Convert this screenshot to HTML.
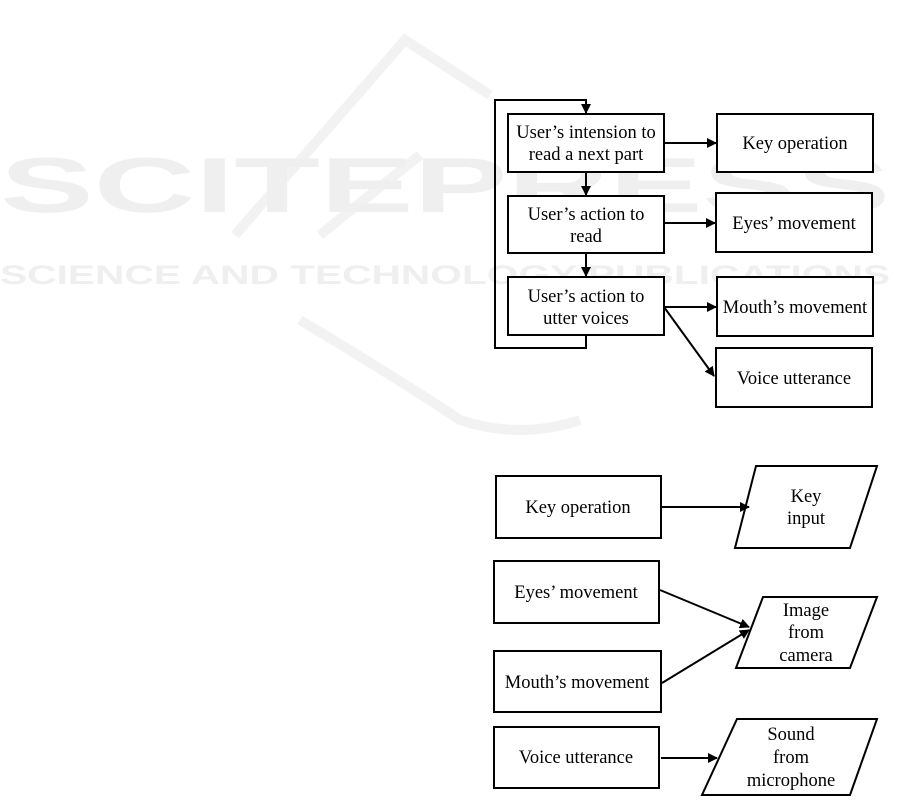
<!DOCTYPE html>
<html><head><meta charset="utf-8"><style>
html,body{margin:0;padding:0;background:#fff;}
svg{display:block;}
.t{font-family:"Liberation Serif",serif;font-size:18.5px;fill:#000;}
</style></head><body>
<svg width="901" height="804" viewBox="0 0 901 804" xmlns="http://www.w3.org/2000/svg">
<defs><marker id="a" markerWidth="10" markerHeight="10" refX="9" refY="5" orient="auto" markerUnits="userSpaceOnUse"><path d="M0,0 L10,5 L0,10 z" fill="#000"/></marker></defs>
<g stroke="#f2f2f2" stroke-width="10" fill="none">
<path d="M235,235 L405,40 L490,95"/>
<path d="M320,235 L420,155"/>
<path d="M300,320 Q400,380 460,420 Q520,440 580,420"/>
</g>
<text x="0" y="212" style="font-family:'Liberation Sans',sans-serif;font-weight:bold;font-size:78px;fill:#efefef" textLength="890" lengthAdjust="spacingAndGlyphs">SCITEPRESS</text>
<text x="0" y="284" style="font-family:'Liberation Sans',sans-serif;font-weight:bold;font-size:27px;fill:#efefef" textLength="890" lengthAdjust="spacingAndGlyphs">SCIENCE AND TECHNOLOGY PUBLICATIONS</text>
<g fill="#fff" stroke="#000" stroke-width="2">
<rect x="508" y="114" width="156" height="58"/>
<rect x="508" y="196" width="156" height="57"/>
<rect x="508" y="277" width="156" height="58"/>
<rect x="717" y="114" width="156" height="58"/>
<rect x="716" y="193" width="156" height="59"/>
<rect x="717" y="277" width="156" height="59"/>
<rect x="716" y="348" width="156" height="59"/>
<rect x="496" y="476" width="165" height="62"/>
<polygon points="756,466 877,466 850,548 735,548"/>
<rect x="494" y="561" width="165" height="62"/>
<rect x="494" y="651" width="167" height="61"/>
<polygon points="763,597 877,597 850,668 736,668"/>
<rect x="494" y="727" width="165" height="61"/>
<polygon points="737,719 877,719 850,795 702,795"/>
</g>
<g fill="none" stroke="#000" stroke-width="2">
<polyline points="586,335 586,348 495,348 495,100 586,100 586,113" marker-end="url(#a)"/>
<line x1="586" y1="172" x2="586" y2="195" marker-end="url(#a)"/>
<line x1="586" y1="253" x2="586" y2="276" marker-end="url(#a)"/>
<line x1="664" y1="143" x2="716" y2="143" marker-end="url(#a)"/>
<line x1="664" y1="223" x2="715" y2="223" marker-end="url(#a)"/>
<line x1="664" y1="307" x2="716" y2="307" marker-end="url(#a)"/>
<line x1="664" y1="307" x2="714" y2="376" marker-end="url(#a)"/>
<line x1="661" y1="507" x2="749" y2="507" marker-end="url(#a)"/>
<line x1="660" y1="590" x2="749" y2="627" marker-end="url(#a)"/>
<line x1="662" y1="683" x2="749" y2="630" marker-end="url(#a)"/>
<line x1="661" y1="758" x2="717" y2="758" marker-end="url(#a)"/>
</g>
<g text-anchor="middle">
<text class="t" x="586" y="138">User’s intension to</text><text class="t" x="586" y="160">read a next part</text>
<text class="t" x="586" y="220">User’s action to</text><text class="t" x="586" y="242">read</text>
<text class="t" x="586" y="302">User’s action to</text><text class="t" x="586" y="324">utter voices</text>
<text class="t" x="795" y="149">Key operation</text>
<text class="t" x="794" y="229">Eyes’ movement</text>
<text class="t" x="795" y="313">Mouth’s movement</text>
<text class="t" x="794" y="384">Voice utterance</text>
<text class="t" x="578" y="513">Key operation</text>
<text class="t" x="806" y="502">Key</text><text class="t" x="806" y="524">input</text>
<text class="t" x="576" y="598">Eyes’ movement</text>
<text class="t" x="577" y="688">Mouth’s movement</text>
<text class="t" x="576" y="763">Voice utterance</text>
<text class="t" x="806" y="616">Image</text><text class="t" x="806" y="638">from</text><text class="t" x="806" y="661">camera</text>
<text class="t" x="791" y="740">Sound</text><text class="t" x="791" y="763">from</text><text class="t" x="791" y="786">microphone</text>
</g>
</svg>
</body></html>
